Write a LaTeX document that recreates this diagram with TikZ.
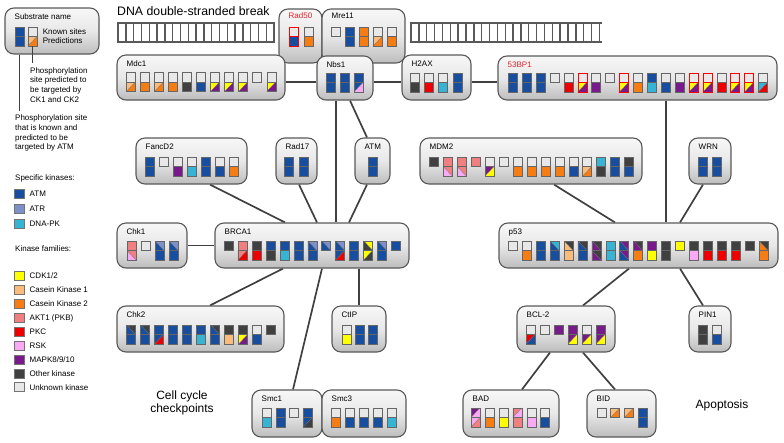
\documentclass[tikz,border=0pt]{standalone}
\usepackage{fontspec}
\setmainfont{Liberation Sans}
\usetikzlibrary{backgrounds}
\definecolor{am}{RGB}{24,78,160}
\definecolor{ar}{RGB}{125,145,200}
\definecolor{dp}{RGB}{55,180,212}
\definecolor{cd}{RGB}{255,255,0}
\definecolor{ka}{RGB}{250,188,125}
\definecolor{kb}{RGB}{245,125,20}
\definecolor{ak}{RGB}{240,128,128}
\definecolor{pk}{RGB}{238,0,0}
\definecolor{rs}{RGB}{250,170,245}
\definecolor{mp}{RGB}{120,25,140}
\definecolor{ot}{RGB}{64,64,64}
\definecolor{un}{RGB}{232,232,232}
\definecolor{labred}{RGB}{232,34,42}
% cell fillers (use \cx,\cy)
\newcommand\gS[1]{\fill[fill=#1] (\cx,\cy) rectangle ++(9,9.5);}
\newcommand\gD[2]{\fill[fill=#1] (\cx,\cy) -- (\cx+9,\cy) -- (\cx,\cy+9.5) -- cycle;
  \fill[fill=#2] (\cx+9,\cy) -- (\cx+9,\cy+9.5) -- (\cx,\cy+9.5) -- cycle;
  \draw[black!55, line width=0.3pt] (\cx,\cy+9.5) -- (\cx+9,\cy);}
\newcommand\gE[2]{\fill[fill=#1] (\cx,\cy) -- (\cx+9,\cy) -- (\cx+9,\cy+9.5) -- cycle;
  \fill[fill=#2] (\cx,\cy) -- (\cx+9,\cy+9.5) -- (\cx,\cy+9.5) -- cycle;
  \draw[black!55, line width=0.3pt] (\cx,\cy) -- (\cx+9,\cy+9.5);}
\newcommand\rowat[3][13.95]{\def\gx{#2}\def\gy{#3}\def\gstep{#1}}
\newcommand\tgl[3][gbord]{\def\cx{\gx}\def\cy{\gy}#2\def\cy{\gy+9.5}#3%
  \draw[#1,gline] (\gx,\gy) rectangle ++(9,19);
  \draw[#1,line width=0.35pt] (\gx,\gy+9.5) -- ++(9,0);
  \pgfmathsetmacro\gx{\gx+\gstep}}
\newcommand\sgl[2][gbord]{\def\cx{\gx}\def\cy{\gy}#2%
  \draw[#1,gline] (\gx,\gy) rectangle ++(9,9.5);
  \pgfmathsetmacro\gx{\gx+\gstep}}
\def\lofs{11.5}
\newcommand\subbox[7][black]{%
  \pgfmathsetmacro\bw{#5-#3}\pgfmathsetmacro\bh{#6-#4}%
  \node[sbox, minimum width=\bw pt, minimum height=\bh pt] (#2) at ({(#3+#5)/2},{(#4+#6)/2}) {};
  \node[blab, text=#1] (#2l) at (#3+9.5,#4+\lofs) {#7};}
\tikzset{
  sbox/.style={draw=black!65, line width=1.1pt, rounded corners=9pt, top color=black!3, bottom color=black!26, middle color=black!9, inner sep=0pt},
  blab/.style={font=\fontsize{8}{9}\selectfont, anchor=base west, inner sep=0pt},
  conn/.style={draw=black!75, line width=1.7pt},
  gline/.style={line width=0.6pt},
  gbord/.style={draw=black!60},
  rail/.style={draw=black!65, line width=2pt},
  rung/.style={draw=black!65, line width=1.4pt},
  ltxt/.style={font=\fontsize{8}{9.6}\selectfont, inner sep=0pt, anchor=base west, align=left},
  sw/.style={draw=black!55, line width=0.6pt, minimum width=10pt, minimum height=9pt, inner sep=0pt},
  lline/.style={draw=black!75, line width=1.2pt},
  big/.style={font=\fontsize{12}{13.5}\selectfont, inner sep=0pt, align=center},
}
\begin{document}
\begin{tikzpicture}[x=1pt,y=-1pt]
\path[use as bounding box] (0,0) rectangle (784,442);

% title and DNA
\node[font=\fontsize{12.3}{14}\selectfont, anchor=base west, inner sep=0pt] (title) at (117,15) {DNA double-stranded break};
\draw[rail] (117,23) -- (275,23) (117,42) -- (275,42);
\foreach \i in {0,...,20} \draw[rung] ({118+\i*7.8},23) -- ({118+\i*7.8},42);
\draw[rail] (410,23) -- (602,23) (410,42) -- (602,42);
\foreach \i in {0,...,24} \draw[rung] ({411+\i*7.85},23) -- ({411+\i*7.85},42);

% legend
\subbox{legend}{5}{8}{99}{54}{Substrate name}
\rowat[13]{15}{27}
\tgl{\gS{am}}{\gS{am}}
\tgl{\gS{un}}{\gD{ka}{kb}}
\node[ltxt] (known) at (42.7,34.3) {Known sites};
\node[ltxt] (pred) at (42.7,43.3) {Predictions};
\coordinate (g2b) at (32.5,46.3);
\coordinate (n1) at (32.5,63);
\draw[lline] (g2b) -- (n1);
\coordinate (g1b) at (19.5,54.6);
\coordinate (n2) at (19.5,111);
\draw[lline] (g1b) -- (n2);
\node[ltxt, anchor=north west] (t1) at (30,67.4) {Phosphorylation\\site predicted to\\be targeted by\\CK1 and CK2};
\node[ltxt, anchor=north west] (t2) at (15,114.8) {Phosphorylation site\\that is known and\\predicted to be\\targeted by ATM};

\node[ltxt] (spec) at (15,180) {Specific kinases:};
\node[sw, fill=am] (sATM) at (19,194) {};   \node[ltxt] (lATM) at (29.5,196.9) {ATM};
\node[sw, fill=ar] (sATR) at (19,208.7) {}; \node[ltxt] (lATR) at (29.5,211.6) {ATR};
\node[sw, fill=dp] (sDPK) at (19,223.3) {}; \node[ltxt] (lDPK) at (29.5,226.2) {DNA-PK};
\node[ltxt] (fam) at (15,251.8) {Kinase families:};
\node[sw, fill=cd] (sCDK) at (19,276) {};   \node[ltxt] (lCDK) at (29.5,278.9) {CDK1/2};
\node[sw, fill=ka] (sCK1) at (19,289.9) {}; \node[ltxt] (lCK1) at (29.5,292.8) {Casein Kinase 1};
\node[sw, fill=kb] (sCK2) at (19,303.8) {}; \node[ltxt] (lCK2) at (29.5,306.7) {Casein Kinase 2};
\node[sw, fill=ak] (sAKT) at (19,317.7) {}; \node[ltxt] (lAKT) at (29.5,320.6) {AKT1 (PKB)};
\node[sw, fill=pk] (sPKC) at (19,331.6) {}; \node[ltxt] (lPKC) at (29.5,334.5) {PKC};
\node[sw, fill=rs] (sRSK) at (19,345.5) {}; \node[ltxt] (lRSK) at (29.5,348.4) {RSK};
\node[sw, fill=mp] (sMAP) at (19,359.4) {}; \node[ltxt] (lMAP) at (29.5,362.3) {MAPK8/9/10};
\node[sw, fill=ot] (sOTH) at (19,373.3) {}; \node[ltxt] (lOTH) at (29.5,376.2) {Other kinase};
\node[sw, fill=un] (sUNK) at (19,387.2) {}; \node[ltxt] (lUNK) at (29.5,390.1) {Unknown kinase};

% ---------- boxes ----------
\def\lofs{9.5}
\subbox[labred]{rad50}{279}{9}{322}{63}{Rad50}
\rowat[15]{289}{27}
\tgl[draw=red]{\gS{un}}{\gS{am}}
\tgl{\gS{un}}{\gS{kb}}
\subbox{mre11}{322}{9}{405}{63}{Mre11}
\rowat[13.9]{331.5}{27}
\sgl{\gS{un}}
\tgl{\gS{am}}{\gS{am}}
\tgl{\gS{kb}}{\gS{kb}}
\tgl{\gS{un}}{\gD{ka}{kb}}
\tgl{\gS{un}}{\gS{kb}}
\def\lofs{11.5}

\subbox{mdc1}{117}{55}{285}{100}{Mdc1}
\rowat[14.05]{126.3}{72.5}
\tgl{\gS{un}}{\gD{ka}{kb}}
\tgl{\gS{un}}{\gS{kb}}
\tgl{\gS{un}}{\gD{ka}{kb}}
\tgl{\gS{un}}{\gS{kb}}
\tgl{\gS{un}}{\gS{ot}}
\tgl{\gS{un}}{\gS{am}}
\tgl{\gS{un}}{\gD{cd}{mp}}
\tgl{\gS{un}}{\gD{cd}{mp}}
\tgl{\gS{un}}{\gD{cd}{mp}}
\sgl{\gS{un}}
\tgl{\gS{un}}{\gD{cd}{mp}}

\subbox{nbs1}{317}{56}{373}{100}{Nbs1}
\rowat[14]{326}{73}
\tgl{\gS{am}}{\gS{am}}
\tgl{\gS{am}}{\gS{am}}
\tgl{\gS{am}}{\gD{am}{rs}}

\subbox{h2ax}{402}{55}{471}{100}{H2AX}
\rowat[14.3]{410}{73}
\tgl{\gS{un}}{\gS{ot}}
\tgl{\gS{un}}{\gS{pk}}
\tgl{\gS{un}}{\gS{dp}}
\tgl{\gS{am}}{\gS{am}}

\subbox[labred]{p53bp1}{498}{56}{777}{100}{53BP1}
\rowat[13.9]{508.3}{73}
\tgl{\gS{am}}{\gS{am}}
\tgl{\gS{am}}{\gS{am}}
\tgl{\gS{am}}{\gS{am}}
\sgl{\gS{un}}
\tgl{\gS{un}}{\gS{pk}}
\tgl[draw=red]{\gS{un}}{\gD{cd}{mp}}
\tgl{\gS{un}}{\gS{mp}}
\sgl{\gS{un}}
\tgl[draw=red]{\gS{un}}{\gD{cd}{mp}}
\tgl{\gS{un}}{\gS{kb}}
\tgl{\gS{am}}{\gS{dp}}
\tgl{\gS{un}}{\gS{am}}
\tgl{\gS{un}}{\gS{mp}}
\tgl[draw=red]{\gS{un}}{\gD{cd}{mp}}
\tgl[draw=red]{\gS{un}}{\gD{cd}{mp}}
\tgl{\gS{un}}{\gS{pk}}
\tgl[draw=red]{\gS{un}}{\gD{cd}{mp}}
\tgl[draw=red]{\gS{un}}{\gD{cd}{mp}}
\tgl{\gS{un}}{\gD{dp}{pk}}

\subbox{fancd2}{136}{138}{247}{184}{FancD2}
\rowat[14.05]{145}{157}
\tgl{\gS{am}}{\gS{am}}
\sgl{\gS{un}}
\tgl{\gS{un}}{\gS{mp}}
\tgl{\gS{un}}{\gS{dp}}
\tgl{\gS{am}}{\gS{am}}
\tgl{\gS{un}}{\gS{am}}
\tgl{\gS{un}}{\gS{kb}}

\subbox{rad17}{276}{138}{317}{184}{Rad17}
\rowat[14.5]{284.5}{157}
\tgl{\gS{am}}{\gS{am}}
\tgl{\gS{am}}{\gS{am}}

\subbox{atm}{355}{138}{390}{184}{ATM}
\rowat{368}{157}
\tgl{\gS{am}}{\gS{am}}

\subbox{mdm2}{420}{138}{642}{184}{MDM2}
\rowat[13.95]{429.3}{157}
\sgl{\gS{ot}}
\tgl{\gS{ak}}{\gE{ak}{rs}}
\tgl{\gS{ak}}{\gE{ak}{rs}}
\sgl{\gS{ak}}
\tgl{\gS{un}}{\gD{mp}{cd}}
\sgl{\gS{un}}
\tgl{\gS{un}}{\gS{kb}}
\tgl{\gS{un}}{\gS{kb}}
\tgl{\gS{un}}{\gS{kb}}
\tgl{\gS{un}}{\gS{kb}}
\tgl{\gS{un}}{\gS{am}}
\tgl{\gS{un}}{\gD{ka}{kb}}
\tgl{\gS{dp}}{\gS{ot}}
\tgl{\gS{am}}{\gS{am}}
\tgl{\gS{ot}}{\gS{am}}

\subbox{wrn}{689}{138}{731}{184}{WRN}
\rowat[14]{698}{157}
\tgl{\gS{am}}{\gS{am}}
\tgl{\gS{am}}{\gS{am}}

\subbox{chk1}{117}{223}{187}{268}{Chk1}
\rowat[14]{127}{241}
\tgl{\gS{ak}}{\gE{ak}{rs}}
\sgl{\gS{un}}
\tgl{\gE{ar}{am}}{\gS{am}}
\tgl{\gE{ar}{am}}{\gS{am}}

\subbox{brca1}{215}{223}{409}{268}{BRCA1}
\rowat[13.97]{224}{241}
\sgl{\gS{ot}}
\tgl{\gS{ak}}{\gD{ak}{pk}}
\tgl{\gS{ot}}{\gS{pk}}
\tgl{\gS{am}}{\gS{ot}}
\tgl{\gS{am}}{\gS{dp}}
\tgl{\gS{am}}{\gS{am}}
\tgl{\gE{ar}{am}}{\gS{am}}
\sgl{\gE{ar}{am}}
\tgl{\gE{ar}{am}}{\gD{am}{pk}}
\tgl{\gS{am}}{\gS{am}}
\tgl{\gE{cd}{ot}}{\gD{cd}{ot}}
\tgl{\gE{ar}{am}}{\gS{am}}
\sgl{\gS{am}}

\subbox{p53}{499}{223}{778}{268}{p53}
\rowat[13.93]{508.3}{241}
\sgl{\gS{un}}
\tgl{\gS{un}}{\gS{kb}}
\tgl{\gS{am}}{\gS{am}}
\tgl{\gE{dp}{am}}{\gS{am}}
\tgl{\gE{ot}{ka}}{\gS{ka}}
\tgl{\gE{ot}{am}}{\gS{am}}
\tgl{\gE{ot}{mp}}{\gE{ot}{mp}}
\tgl{\gS{dp}}{\gS{dp}}
\tgl{\gE{mp}{am}}{\gE{mp}{am}}
\tgl{\gE{ot}{mp}}{\gS{kb}}
\tgl{\gS{mp}}{\gS{cd}}
\tgl{\gS{ot}}{\gS{ot}}
\sgl{\gS{cd}}
\tgl{\gS{ot}}{\gS{rs}}
\tgl{\gS{ot}}{\gS{pk}}
\tgl{\gS{ot}}{\gS{pk}}
\tgl{\gS{ot}}{\gS{pk}}
\sgl{\gS{ot}}
\tgl{\gE{ot}{kb}}{\gS{kb}}

\subbox{chk2}{117}{306}{284}{352}{Chk2}
\rowat[14]{126.7}{325}
\tgl{\gE{ot}{am}}{\gS{am}}
\tgl{\gE{ot}{am}}{\gS{am}}
\tgl{\gS{am}}{\gD{am}{pk}}
\tgl{\gS{am}}{\gS{am}}
\tgl{\gS{am}}{\gS{am}}
\tgl{\gS{am}}{\gS{dp}}
\tgl{\gE{ot}{am}}{\gS{am}}
\tgl{\gS{ot}}{\gS{ka}}
\tgl{\gS{ot}}{\gD{cd}{mp}}
\tgl{\gS{un}}{\gS{am}}
\sgl{\gS{ot}}

\subbox{ctip}{332}{306}{386}{352}{CtIP}
\rowat[13]{342}{325}
\tgl{\gS{un}}{\gS{cd}}
\tgl{\gS{am}}{\gS{am}}
\tgl{\gS{am}}{\gS{am}}

\subbox{bcl2}{517}{306}{615}{352}{BCL-2}
\rowat[14]{526}{325}
\tgl{\gS{un}}{\gD{pk}{am}}
\sgl{\gS{un}}
\sgl{\gS{mp}}
\tgl{\gS{mp}}{\gD{mp}{cd}}
\tgl{\gS{un}}{\gD{mp}{cd}}
\tgl{\gS{mp}}{\gD{mp}{cd}}

\subbox{pin1}{689}{306}{731}{352}{PIN1}
\rowat[14.5]{698}{325}
\tgl{\gS{ot}}{\gS{ot}}
\tgl{\gS{un}}{\gS{am}}

\subbox{smc1}{252}{390}{322}{437}{Smc1}
\rowat[13.8]{262}{408}
\tgl{\gS{un}}{\gS{dp}}
\tgl{\gS{am}}{\gS{am}}
\sgl{\gS{un}}
\tgl{\gS{am}}{\gD{am}{ot}}

\subbox{smc3}{322}{390}{406}{437}{Smc3}
\rowat[14]{331}{408}
\tgl{\gS{un}}{\gS{kb}}
\tgl{\gS{un}}{\gS{am}}
\tgl{\gS{un}}{\gS{am}}
\tgl{\gS{un}}{\gS{am}}
\tgl{\gS{un}}{\gS{dp}}

\subbox{bad}{463}{390}{559}{437}{BAD}
\rowat[13.95]{471}{408}
\tgl{\gD{mp}{rs}}{\gD{rs}{ak}}
\tgl{\gS{un}}{\gS{kb}}
\tgl{\gS{un}}{\gS{cd}}
\tgl{\gD{ak}{rs}}{\gS{ak}}
\tgl{\gS{un}}{\gS{rs}}
\tgl{\gS{un}}{\gS{am}}

\subbox{bid}{587}{390}{656}{437}{BID}
\rowat[13.7]{597}{408}
\sgl{\gS{un}}
\sgl{\gD{ka}{kb}}
\sgl{\gD{ka}{kb}}
\tgl{\gS{am}}{\gS{am}}

% section captions
\node[big] (cellcycle) at (182,403) {Cell cycle\\checkpoints};
\node[big, anchor=base] (apopt) at (722,408.5) {Apoptosis};

% ---------- connectors ----------
\begin{scope}[on background layer]
\draw[conn] ([yshift=-4.5pt]mdc1.east) -- ([yshift=-4pt]nbs1.west);
\draw[conn] ([yshift=-4pt]nbs1.east) -- ([yshift=-4.5pt]h2ax.west);
\draw[conn] ([yshift=-4.5pt]h2ax.east) -- ([yshift=-4pt]p53bp1.west);
\draw[conn] ([xshift=28.5pt]p53bp1.south) -- ([xshift=27.5pt]p53.north);
\draw[conn] ([xshift=-9pt]nbs1.south) -- ([xshift=24pt]brca1.north);
\draw[conn] ([xshift=5pt]nbs1.south) -- ([xshift=-5.5pt]atm.north);
\draw[conn] ([xshift=-5.5pt]atm.south) -- ([xshift=37pt]brca1.north);
\draw[conn] ([xshift=2.5pt]rad17.south) -- ([xshift=5pt]brca1.north);
\draw[conn] ([xshift=18.5pt]fancd2.south) -- ([xshift=-27pt]brca1.north);
\draw[conn] (chk1.east) -- (brca1.west);
\draw[conn] ([xshift=-29pt]brca1.south) -- ([xshift=9.5pt]chk2.north);
\draw[conn] ([xshift=10pt]brca1.south) -- ([xshift=6pt]smc1.north);
\draw[conn] ([xshift=47pt]brca1.south) -- (ctip.north);
\draw[conn] ([xshift=23pt]mdm2.south) -- ([xshift=-23.5pt]p53.north);
\draw[conn] ([xshift=-7pt]wrn.south) -- ([xshift=41.5pt]p53.north);
\draw[conn] ([xshift=-9.5pt]p53.south) -- ([xshift=17pt]bcl2.north);
\draw[conn] ([xshift=41.5pt]p53.south) -- ([xshift=-7pt]pin1.north);
\draw[conn] ([xshift=-16pt]bcl2.south) -- ([xshift=11pt]bad.north);
\draw[conn] ([xshift=17pt]bcl2.south) -- ([xshift=-6.5pt]bid.north);
\end{scope}
\end{tikzpicture}
\end{document}
